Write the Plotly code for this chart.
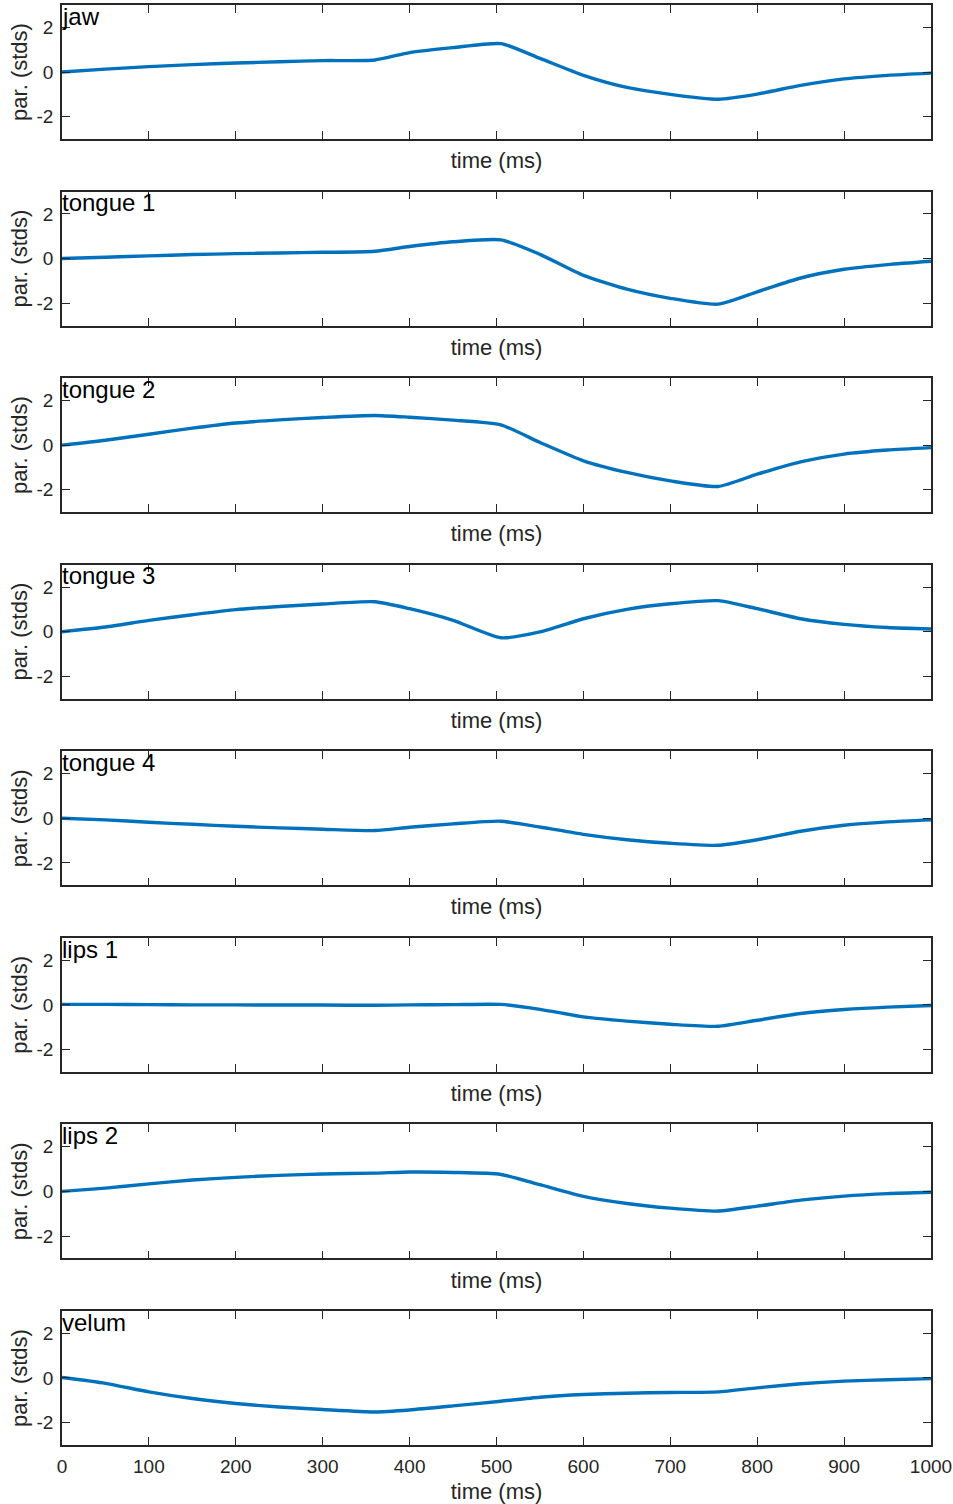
import plotly.graph_objects as go
from plotly.subplots import make_subplots

time_ms = [0, 50, 100, 150, 200, 250, 300, 360, 400, 450, 505, 550, 600, 650, 700, 755, 800, 850, 900, 950, 1000]

names = ["jaw", "tongue 1", "tongue 2", "tongue 3", "tongue 4", "lips 1", "lips 2", "velum"]

jaw      = [0.0, 0.13, 0.24, 0.33, 0.40, 0.46, 0.51, 0.54, 0.87, 1.09, 1.27, 0.61, -0.15, -0.69, -1.00, -1.22, -0.99, -0.60, -0.31, -0.15, -0.05]
tongue_1 = [0.0, 0.06, 0.12, 0.18, 0.22, 0.25, 0.28, 0.33, 0.54, 0.75, 0.84, 0.19, -0.75, -1.37, -1.78, -2.04, -1.49, -0.87, -0.48, -0.27, -0.12]
tongue_2 = [0.0, 0.22, 0.49, 0.76, 0.99, 1.13, 1.24, 1.33, 1.25, 1.12, 0.91, 0.12, -0.70, -1.22, -1.60, -1.85, -1.30, -0.75, -0.40, -0.22, -0.11]
tongue_3 = [0.0, 0.21, 0.51, 0.76, 0.99, 1.13, 1.24, 1.34, 1.03, 0.51, -0.27, -0.01, 0.58, 1.00, 1.25, 1.39, 1.03, 0.58, 0.33, 0.19, 0.12]
tongue_4 = [0.0, -0.07, -0.18, -0.27, -0.36, -0.43, -0.49, -0.55, -0.40, -0.25, -0.13, -0.39, -0.72, -0.96, -1.12, -1.21, -0.96, -0.58, -0.31, -0.16, -0.07]
lips_1   = [0.02, 0.02, 0.01, 0.0, 0.0, -0.01, -0.01, -0.02, 0.0, 0.01, 0.02, -0.20, -0.54, -0.73, -0.87, -0.96, -0.69, -0.39, -0.21, -0.10, -0.03]
lips_2   = [0.0, 0.15, 0.34, 0.51, 0.63, 0.72, 0.78, 0.82, 0.87, 0.85, 0.76, 0.30, -0.22, -0.54, -0.75, -0.88, -0.66, -0.39, -0.21, -0.10, -0.04]
velum    = [0.02, -0.24, -0.62, -0.92, -1.14, -1.30, -1.41, -1.52, -1.43, -1.25, -1.04, -0.86, -0.74, -0.68, -0.65, -0.62, -0.44, -0.26, -0.14, -0.08, -0.03]

series = [jaw, tongue_1, tongue_2, tongue_3, tongue_4, lips_1, lips_2, velum]

x_ticks = [0, 100, 200, 300, 400, 500, 600, 700, 800, 900, 1000]
x_tick_labels = ["0", "100", "200", "300", "400", "500", "600", "700", "800", "900", "1000"]
y_ticks = [-2, 0, 2]
y_tick_labels = ["-2", "0", "2"]

W, H = 953, 1504
FONT = "Liberation Sans, Arial, Helvetica, sans-serif"
AXC = "#262626"

fig = make_subplots(rows=8, cols=1)

pitch = 186.57
for i, (name, vals) in enumerate(zip(names, series)):
    r = i + 1
    fig.add_trace(go.Scatter(x=time_ms, y=vals, mode="lines",
                             line=dict(color="#0072BD", width=3.4, shape="spline", smoothing=0.6),
                             showlegend=False, hoverinfo="skip"), row=r, col=1)
    top_px = 5 + pitch * i
    bot_px = 139 + pitch * i
    last = (i == 7)
    fig.update_xaxes(row=r, col=1, range=[0, 1000], tickvals=x_ticks, ticktext=x_tick_labels,
                     showticklabels=last, ticks="inside", ticklen=8, tickwidth=1.2, tickcolor=AXC,
                     showline=True, linecolor=AXC, linewidth=1.5, mirror="allticks",
                     showgrid=False, zeroline=False,
                     tickfont=dict(family=FONT, size=19, color=AXC),
                     ticklabelstandoff=3,
                     title=dict(text="time (ms)", font=dict(family=FONT, size=22, color=AXC),
                                standoff=9 if last else 13))
    fig.update_yaxes(row=r, col=1, range=[-3, 3], tickvals=y_ticks, ticktext=y_tick_labels,
                     ticks="inside", ticklen=8, tickwidth=1.2, tickcolor=AXC,
                     showline=True, linecolor=AXC, linewidth=1.5, mirror="allticks",
                     showgrid=False, zeroline=False,
                     domain=[1 - bot_px / H, 1 - top_px / H],
                     tickfont=dict(family=FONT, size=19, color=AXC),
                     ticklabelstandoff=3,
                     title=dict(text="par. (stds)", font=dict(family=FONT, size=22, color=AXC),
                                standoff=3))
    xref = "x" if r == 1 else f"x{r}"
    yref = "y" if r == 1 else f"y{r}"
    fig.add_annotation(x=0, y=2.5, xref=xref, yref=yref, text=name, showarrow=False,
                       xanchor="left", yanchor="middle", xshift=-2,
                       font=dict(family=FONT, size=24, color="black"))

fig.update_layout(width=W, height=H, margin=dict(l=62, r=22, t=0, b=0),
                  plot_bgcolor="white", paper_bgcolor="white")

fig.write_html("out.html", config={"displayModeBar": False},
               post_script="document.body.style.margin='0';document.body.style.overflow='hidden';"
                           "document.documentElement.style.overflow='hidden';")
